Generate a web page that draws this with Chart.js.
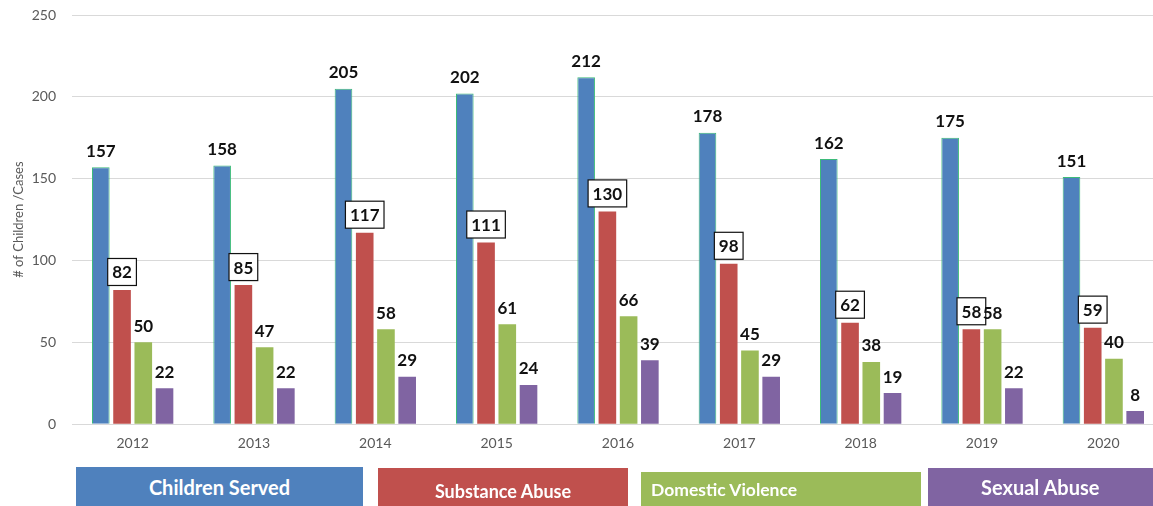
<!DOCTYPE html>
<html>
<head>
<meta charset="utf-8">
<script src="https://cdn.jsdelivr.net/npm/chart.js@4.4.1/dist/chart.umd.min.js"></script>
<style>
  html, body { margin: 0; padding: 0; background: #fff; overflow: hidden; width: 1153px; height: 506px; }
  #wrap { position: absolute; left: 0; top: 0; width: 1165px; height: 471px; }
  .key { position: absolute; color: #fff; font-family: Lato, sans-serif; font-weight: bold; display: flex; align-items: center; box-sizing: border-box; }
</style>
</head>
<body>
<div id="wrap"><canvas id="casesChart" width="1165" height="471"></canvas></div>
<div id="keys"></div>
<script>
// values
const years = ["2012", "2013", "2014", "2015", "2016", "2017", "2018", "2019", "2020"];
const childrenServed = [157, 158, 205, 202, 212, 178, 162, 175, 151];
const substanceAbuse = [82, 85, 117, 111, 130, 98, 62, 58, 59];
const domesticViolence = [50, 47, 58, 61, 66, 45, 38, 58, 40];
const sexualAbuse = [22, 22, 29, 24, 39, 29, 19, 22, 8];
const seriesNames = ["Children Served", "Substance Abuse", "Domestic Violence", "Sexual Abuse"];
const yMax = 250;
const yStep = 50;

const colors = ["#4f81bd", "#c0504d", "#9bbb59", "#8064a2"];

// bold numbers over the bars, red ones get a box
const valueLabels = {
  id: "valueLabels",
  afterDatasetsDraw(chart) {
    const ctx = chart.ctx;
    ctx.save();
    ctx.font = "bold 17px Lato";
    ctx.textAlign = "center";
    ctx.textBaseline = "middle";
    chart.data.datasets.forEach((ds, i) => {
      chart.getDatasetMeta(i).data.forEach((bar, j) => {
        const txt = String(ds.data[j]);
        if (ds.boxed) {
          const y = bar.y - 18;
          const w = ctx.measureText(txt).width + 9;
          ctx.fillStyle = "#fff";
          ctx.fillRect(bar.x - w / 2, y - 13.5, w, 27);
          ctx.strokeStyle = "#111";
          ctx.lineWidth = 1.2;
          ctx.strokeRect(bar.x - w / 2, y - 13.5, w, 27);
          ctx.fillStyle = "#111";
          ctx.fillText(txt, bar.x, y + 1);
        } else {
          ctx.fillStyle = "#111";
          ctx.fillText(txt, bar.x, bar.y - 16);
        }
      });
    });
    ctx.restore();
  }
};

new Chart(document.getElementById("casesChart"), {
  type: "bar",
  data: {
    labels: years,
    datasets: [
      { label: seriesNames[0], data: childrenServed, backgroundColor: colors[0], borderColor: "#3dbb7a", borderWidth: 1 },
      { label: seriesNames[1], data: substanceAbuse, backgroundColor: colors[1], boxed: true },
      { label: seriesNames[2], data: domesticViolence, backgroundColor: colors[2] },
      { label: seriesNames[3], data: sexualAbuse, backgroundColor: colors[3] }
    ]
  },
  options: {
    responsive: false,
    animation: false,
    layout: { padding: { top: 15, right: 1, bottom: 8, left: 0 } },
    datasets: { bar: { categoryPercentage: 0.7, barPercentage: 0.83 } },
    plugins: { legend: { display: false }, tooltip: { enabled: false } },
    scales: {
      x: {
        grid: { display: false, drawTicks: false },
        border: { display: false },
        ticks: { color: "#595959", font: { family: "Lato", size: 14 }, padding: 11 }
      },
      y: {
        min: 0,
        max: yMax,
        afterFit(axis) {
          axis.width = 72;
          // tick padding would otherwise push the plot top down
          axis.paddingTop = 0;
          axis.paddingBottom = 0;
        },
        grid: { color: "#d9d9d9", drawTicks: false },
        border: { display: false },
        ticks: { stepSize: yStep, color: "#595959", font: { family: "Lato", size: 14 }, padding: 16 },
        title: { display: true, text: "# of Children /Cases", color: "#595959", font: { family: "Lato", size: 13 }, padding: { top: 11, bottom: 0 } }
      }
    }
  },
  plugins: [valueLabels]
});

// coloured key boxes under the chart
const keyBoxes = [
  { left: 76, top: 467, width: 287, size: 20, align: "center", pad: 0, dy: 0 },
  { left: 378, top: 468, width: 250, size: 18, align: "center", pad: 0, dy: 7 },
  { left: 641, top: 472, width: 280, size: 17.5, align: "flex-start", pad: 10, dy: 0 },
  { left: 928, top: 468, width: 230, size: 20, align: "flex-start", pad: 53, dy: 0 }
];
const keys = document.getElementById("keys");
keyBoxes.forEach((k, i) => {
  const d = document.createElement("div");
  d.className = "key";
  d.textContent = seriesNames[i];
  d.style.left = k.left + "px";
  d.style.top = k.top + "px";
  d.style.width = k.width + "px";
  d.style.height = (506 - k.top) + "px";
  d.style.background = colors[i];
  d.style.fontSize = k.size + "px";
  d.style.justifyContent = k.align;
  d.style.paddingLeft = k.pad + "px";
  d.style.paddingTop = k.dy + "px";
  keys.appendChild(d);
});
</script>
</body>
</html>
